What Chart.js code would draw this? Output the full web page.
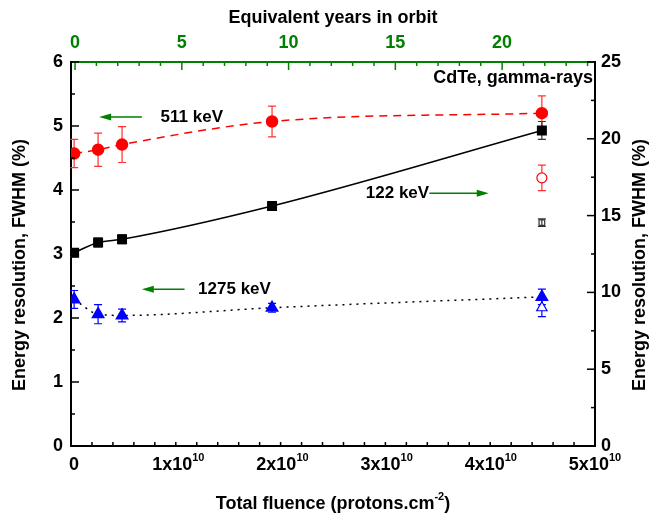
<!DOCTYPE html>
<html>
<head>
<meta charset="utf-8">
<script src="https://cdn.jsdelivr.net/npm/chart.js@4.4.1/dist/chart.umd.min.js"></script>
<style>
    body { margin: 0; background: #fff; }
</style>
</head>
<body>
<canvas id="myCanvas" width="651" height="517"></canvas>
<script>
// irradiation steps (total fluence, protons/cm2)
var fluence = [0, 0.23e10, 0.46e10, 1.9e10, 4.49e10];

// energy resolution FWHM (%) and error, per gamma line
var res511 = [4.57, 4.63, 4.71, 5.07, 5.20];
var err511 = [0.22, 0.26, 0.28, 0.24, 0.27];
var res122 = [3.02, 3.18, 3.23, 3.75, 4.93];
var err122 = [0.06, 0.07, 0.07, 0.06, 0.14];
var res1275 = [2.29, 2.06, 2.04, 2.16, 2.33];
var err1275 = [0.14, 0.15, 0.10, 0.07, 0.12];

// open symbols at the last step
var lastFluence = [4.49e10];
var open511 = [4.19];
var openErr511 = [0.20];
var open122 = [3.49];
var openErr122 = [0.06];
var open1275 = [2.16];
var openErr1275 = [0.14];

// tick labels
var fluenceTicks = [0, 1e10, 2e10, 3e10, 4e10, 5e10];
var fluenceLabels = ['0', '1x10', '2x10', '3x10', '4x10', '5x10'];
var fluenceExp = ['', '10', '10', '10', '10', '10'];
var yearTicks = [0, 5, 10, 15, 20];
var leftTicks = [0, 1, 2, 3, 4, 5, 6];
var rightTicks = [0, 5, 10, 15, 20, 25];

var FONT = '"Liberation Sans", Arial, sans-serif';
var GREEN = '#008000';

var notes = [
    { text: '511 keV', x: 0.83e10, y: 5.14, from: 0.65e10, to: 0.24e10 },
    { text: '122 keV', x: 2.80e10, y: 3.95, from: 3.41e10, to: 3.98e10 },
    { text: '1275 keV', x: 1.19e10, y: 2.45, from: 1.06e10, to: 0.65e10 }
];

function Points(xs, ys) {
    return xs.map(function (x, i) { return { x: x, y: ys[i] }; });
}

function DrawErrorBars(chart) {
    var ctx = chart.ctx;
    var y = chart.scales.y;
    chart.data.datasets.forEach(function (ds, i) {
        if (!ds.errors) return;
        var meta = chart.getDatasetMeta(i);
        ctx.save();
        ctx.strokeStyle = ds.barColor;
        ctx.lineWidth = 1.2;
        meta.data.forEach(function (pt, j) {
            var v = ds.data[j].y, e = ds.errors[j];
            var top = y.getPixelForValue(v + e), bot = y.getPixelForValue(v - e);
            ctx.beginPath();
            ctx.moveTo(pt.x, top); ctx.lineTo(pt.x, bot);
            ctx.moveTo(pt.x - 4, top); ctx.lineTo(pt.x + 4, top);
            ctx.moveTo(pt.x - 4, bot); ctx.lineTo(pt.x + 4, bot);
            ctx.stroke();
        });
        ctx.restore();
    });
}

function DrawTickMarks(chart) {
    var ctx = chart.ctx;
    var a = chart.chartArea;
    [['x', 1e10, '#000'], ['x2', 5, GREEN], ['y', 1, '#000'], ['y2', 5, '#000']].forEach(function (d) {
        var s = chart.scales[d[0]];
        ctx.save();
        ctx.strokeStyle = d[2];
        ctx.lineWidth = 1.5;
        s.ticks.forEach(function (t) {
            var r = t.value / d[1];
            var len = Math.abs(r - Math.round(r)) < 1e-6 ? 8 : 4;
            var p = s.getPixelForValue(t.value);
            ctx.beginPath();
            if (d[0] === 'x') { ctx.moveTo(p, a.bottom); ctx.lineTo(p, a.bottom - len); }
            if (d[0] === 'x2') { ctx.moveTo(p, a.top); ctx.lineTo(p, a.top + len); }
            if (d[0] === 'y') { ctx.moveTo(a.left, p); ctx.lineTo(a.left + len, p); }
            if (d[0] === 'y2') { ctx.moveTo(a.right, p); ctx.lineTo(a.right - len, p); }
            ctx.stroke();
        });
        ctx.restore();
    });
}

// text with a raised part: [normal, sup, normal]
function SupText(ctx, parts, cx, cy, size) {
    var big = 'bold ' + size + 'px ' + FONT, small = 'bold ' + Math.round(size * 0.62) + 'px ' + FONT;
    var w = 0;
    parts.forEach(function (p, i) {
        ctx.font = i % 2 ? small : big;
        w += ctx.measureText(p).width;
    });
    var x = cx - w / 2;
    ctx.textAlign = 'left';
    ctx.textBaseline = 'middle';
    parts.forEach(function (p, i) {
        ctx.font = i % 2 ? small : big;
        ctx.fillText(p, x, i % 2 ? cy - size * 0.38 : cy);
        x += ctx.measureText(p).width;
    });
}

function DrawTexts(chart) {
    var ctx = chart.ctx;
    var a = chart.chartArea;
    var x = chart.scales.x, y = chart.scales.y;
    ctx.save();
    ctx.fillStyle = '#000';

    fluenceTicks.forEach(function (v, i) {
        SupText(ctx, [fluenceLabels[i], fluenceExp[i]], x.getPixelForValue(v), 465, 18);
    });
    SupText(ctx, ['Total fluence (protons.cm', '-2', ')'], (a.left + a.right) / 2, 504, 18);

    ctx.font = 'bold 18px ' + FONT;
    ctx.textAlign = 'center';
    ctx.textBaseline = 'middle';
    ctx.fillText('Equivalent years in orbit', (a.left + a.right) / 2, 18);
    [20, 640].forEach(function (tx) {
        ctx.save();
        ctx.translate(tx, 265);
        ctx.rotate(-Math.PI / 2);
        ctx.fillText('Energy resolution, FWHM (%)', 0, 0);
        ctx.restore();
    });

    ctx.textAlign = 'right';
    ctx.fillText('CdTe, gamma-rays', x.getPixelForValue(4.98e10), y.getPixelForValue(5.75));

    ctx.font = 'bold 17px ' + FONT;
    ctx.textAlign = 'left';
    notes.forEach(function (n) {
        var py = y.getPixelForValue(n.y);
        ctx.fillStyle = '#000';
        ctx.fillText(n.text, x.getPixelForValue(n.x), py);
        var x0 = x.getPixelForValue(n.from), x1 = x.getPixelForValue(n.to);
        var dir = x1 > x0 ? 1 : -1;
        ctx.strokeStyle = GREEN;
        ctx.fillStyle = GREEN;
        ctx.lineWidth = 1.5;
        ctx.beginPath();
        ctx.moveTo(x0, py); ctx.lineTo(x1 - dir * 8, py);
        ctx.stroke();
        ctx.beginPath();
        ctx.moveTo(x1, py);
        ctx.lineTo(x1 - dir * 12, py - 3.5);
        ctx.lineTo(x1 - dir * 12, py + 3.5);
        ctx.closePath();
        ctx.fill();
    });
    ctx.restore();
}

var framePlugin = {
    id: 'frame',
    beforeDatasetsDraw: function (chart) { DrawErrorBars(chart); },
    afterDraw: function (chart) { DrawTickMarks(chart); DrawTexts(chart); }
};

function TickFont() {
    return { family: FONT, size: 18, weight: 'bold' };
}

var ctx = document.getElementById('myCanvas').getContext('2d');
var myChart = new Chart(ctx, {
    type: 'scatter',
    data: {
        datasets: [{
            label: '511 keV',
            data: Points(fluence, res511),
            errors: err511, barColor: '#ff3030',
            showLine: true, cubicInterpolationMode: 'monotone',
            borderColor: '#ff0000', borderWidth: 1.5, borderDash: [8, 6],
            pointStyle: 'circle', pointRadius: 5.5,
            pointBackgroundColor: '#ff0000', pointBorderColor: '#ff0000'
        }, {
            label: '122 keV',
            data: Points(fluence, res122),
            errors: err122, barColor: '#333',
            showLine: true, cubicInterpolationMode: 'monotone',
            borderColor: '#000', borderWidth: 1.5,
            pointStyle: 'rect', pointRadius: 6,
            pointBackgroundColor: '#000', pointBorderColor: '#000'
        }, {
            label: '1275 keV',
            data: Points(fluence, res1275),
            errors: err1275, barColor: '#0000ff',
            showLine: true, cubicInterpolationMode: 'monotone',
            borderColor: '#000', borderWidth: 1.5, borderDash: [2, 5],
            pointStyle: 'triangle', pointRadius: 6.5,
            pointBackgroundColor: '#0000ff', pointBorderColor: '#0000ff'
        }, {
            label: '511 keV open',
            data: Points(lastFluence, open511),
            errors: openErr511, barColor: '#ff3030',
            pointStyle: 'circle', pointRadius: 5, pointBorderWidth: 1.2,
            pointBackgroundColor: '#fff', pointBorderColor: '#ff0000'
        }, {
            label: '122 keV open',
            data: Points(lastFluence, open122),
            errors: openErr122, barColor: '#333',
            pointStyle: 'rect', pointRadius: 4, pointBorderWidth: 1.2,
            pointBackgroundColor: 'rgba(255,255,255,0)', pointBorderColor: '#333'
        }, {
            label: '1275 keV open',
            data: Points(lastFluence, open1275),
            errors: openErr1275, barColor: '#0000ff',
            pointStyle: 'triangle', pointRadius: 6, pointBorderWidth: 1.2,
            pointBackgroundColor: '#fff', pointBorderColor: '#0000ff'
        }]
    },
    options: {
        responsive: false,
        animation: false,
        layout: { padding: 0 },
        plugins: { legend: { display: false }, tooltip: { enabled: false } },
        scales: {
            x: {
                type: 'linear', position: 'bottom', min: -0.03e10, max: 5e10,
                grid: { display: false, drawTicks: false },
                border: { color: '#000', width: 2 },
                ticks: { stepSize: 0.2e10, includeBounds: false, autoSkip: false, callback: function () { return ''; } },
                afterFit: function (s) { s.height = 71; }
            },
            x2: {
                type: 'linear', position: 'top', min: -0.19, max: 24.35,
                grid: { display: false, drawTicks: false },
                border: { color: GREEN, width: 2 },
                ticks: {
                    stepSize: 1, includeBounds: false, autoSkip: false, maxRotation: 0,
                    color: GREEN, font: TickFont(), padding: 8,
                    callback: function (v) { return yearTicks.indexOf(v) >= 0 ? String(v) : ''; }
                },
                afterFit: function (s) { s.height = 62; }
            },
            y: {
                type: 'linear', position: 'left', min: 0, max: 6,
                grid: { display: false, drawTicks: false },
                border: { color: '#000', width: 2 },
                ticks: {
                    stepSize: 0.5, autoSkip: false, color: '#000', font: TickFont(), padding: 8,
                    callback: function (v) { return leftTicks.indexOf(v) >= 0 ? String(v) : ''; }
                },
                afterFit: function (s) { s.width = 71; }
            },
            y2: {
                type: 'linear', position: 'right', min: 0, max: 25,
                grid: { display: false, drawTicks: false },
                border: { color: '#000', width: 2 },
                ticks: {
                    stepSize: 2.5, autoSkip: false, color: '#000', font: TickFont(), padding: 6,
                    callback: function (v) { return rightTicks.indexOf(v) >= 0 ? String(v) : ''; }
                },
                afterFit: function (s) { s.width = 56; }
            }
        }
    },
    plugins: [framePlugin]
});
</script>
</body>
</html>
